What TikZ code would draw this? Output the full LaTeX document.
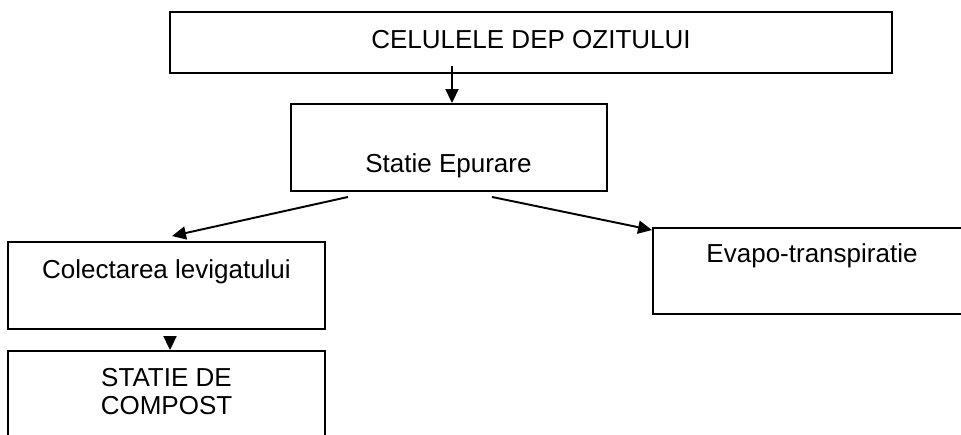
\documentclass[tikz,border=0pt]{standalone}
\usepackage{fontspec}
\setmainfont{Liberation Sans}
\usetikzlibrary{arrows.meta,calc}

\begin{document}
\begin{tikzpicture}[
  x=0.02cm,
  y=-0.02cm,
  >={Triangle[length=0.28cm,width=0.26cm]},
  line join=miter,
  every node/.style={font=\fontsize{14.8pt}{17pt}\selectfont},
  box/.style={draw,line width=1.1pt,inner sep=0pt},
  txt/.style={anchor=base,inner sep=0pt},
  flow/.style={->,line width=1.1pt}
]
\useasboundingbox (0,0) rectangle (961,434);
\clip (0,0) rectangle (961,434);

% ------------------------------------------------------------------
% Boxes
% ------------------------------------------------------------------
\node[box,minimum width=14.44cm,minimum height=1.22cm] (celule) at (531,42.5) {};
\node[box,minimum width=6.32cm,minimum height=1.74cm] (epurare) at (449,147.5) {};
\node[box,minimum width=6.34cm,minimum height=1.74cm] (colectare) at (166.5,285.5) {};
\node[box,minimum width=6.94cm,minimum height=1.72cm] (evapo) at (826.5,271) {};
\node[box,minimum width=6.34cm,minimum height=2.58cm] (compost) at (166.5,415.5) {};

% ------------------------------------------------------------------
% Texts
% ------------------------------------------------------------------
\node[txt] (celule-t) at (531,48) {CELULELE DEP OZITULUI};
\node[txt] (epurare-t) at (448.5,172) {Statie Epurare};
\node[txt] (colectare-t) at (166.5,278) {Colectarea levigatului};
\node[txt] (evapo-t) at (812,262) {Evapo-transpiratie};
\node[txt] (compost-t1) at (166.5,386) {STATIE DE};
\node[txt] (compost-t2) at (166.5,414) {COMPOST};

% ------------------------------------------------------------------
% Flow
% ------------------------------------------------------------------
\draw[flow] ($(celule.south)+(-79,-8)$) -- ($(epurare.north)+(3,0)$);
\draw[flow] ($(epurare.south)+(-101,5)$) -- ($(colectare.north)+(5.5,-5)$);
\draw[flow] ($(epurare.south)+(43,5)$) -- ($(evapo.north west)+(0,3)$);
\draw[flow] ($(colectare.south)+(3.5,6)$) -- ($(compost.north)+(3.5,0)$);

\end{tikzpicture}
\end{document}
